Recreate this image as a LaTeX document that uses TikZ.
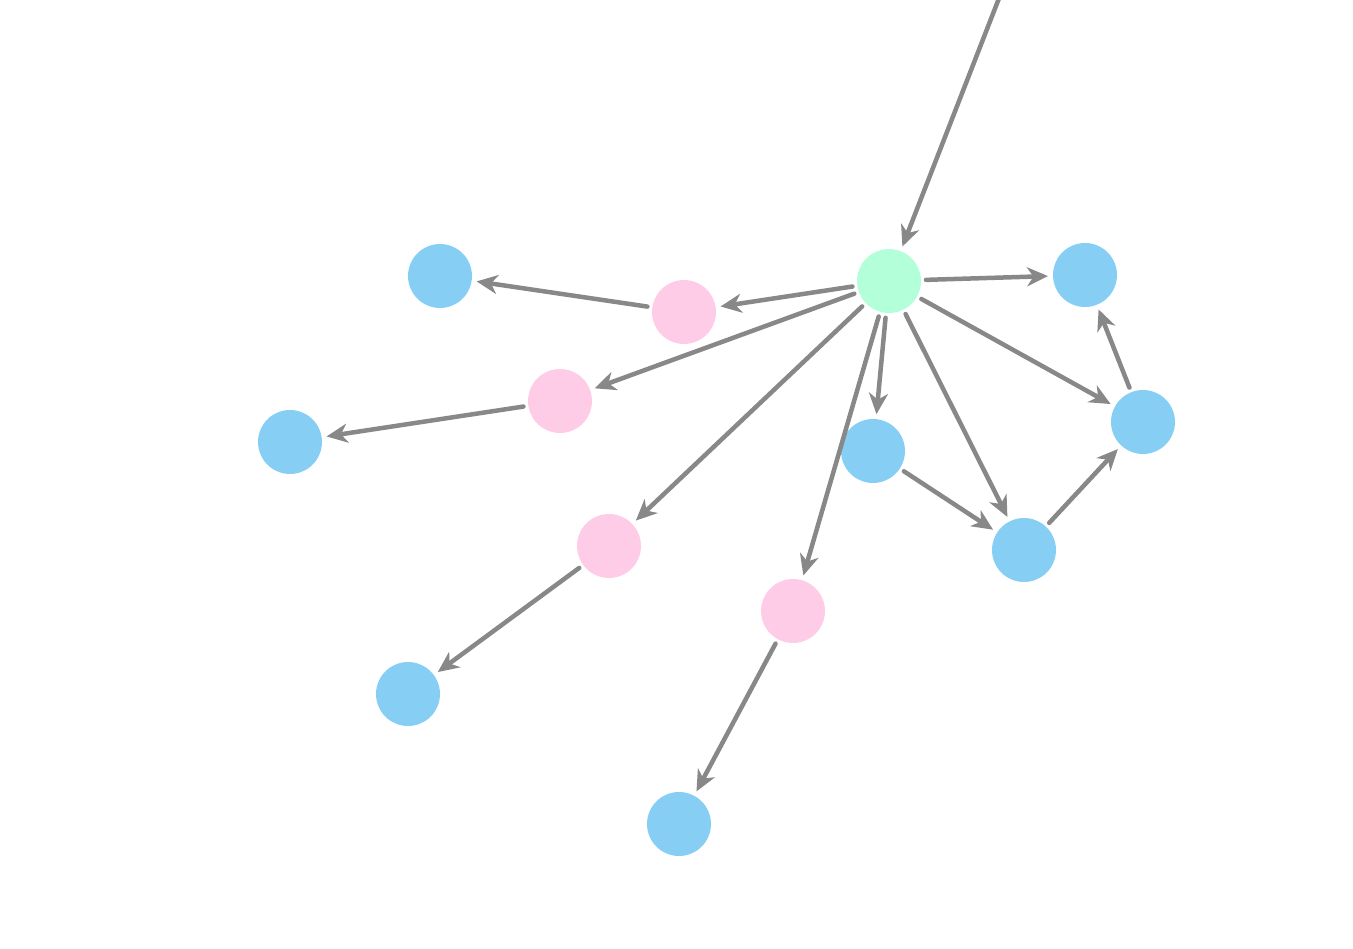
\documentclass[tikz,border=0pt]{standalone}
\usepackage{tikz}
\usetikzlibrary{arrows.meta}
\definecolor{Hub}{HTML}{B3FFDA}
\definecolor{Sky}{HTML}{87CEF5}
\definecolor{Rose}{HTML}{FFCCE8}
\definecolor{Edge}{HTML}{888888}
\begin{document}
\begin{tikzpicture}[
  x=0.02cm,y=-0.02cm,
  dot/.style={circle,minimum size=1.28cm,inner sep=0pt,outer sep=0.1cm},
  hubdot/.style={dot,fill=Hub},
  skydot/.style={dot,fill=Sky},
  rosedot/.style={dot,fill=Rose},
  arrow/.style={-{Stealth[length=0.42cm,width=0.38cm,inset=0.13cm]},line width=0.09cm,line cap=round,draw=Edge}
]
\useasboundingbox (0,0) rectangle (1353,949);
\coordinate (src) at (1003,-12);
\node[hubdot] (hub) at (889,281) {};
\node[rosedot] (p1) at (684,312) {};
\node[rosedot] (p2) at (560,401) {};
\node[rosedot] (p3) at (609,546) {};
\node[rosedot] (p4) at (793,611) {};
\node[skydot] (b1) at (440,276) {};
\node[skydot] (b2) at (290,442) {};
\node[skydot] (b3) at (408,694) {};
\node[skydot] (b4) at (679,824) {};
\node[skydot] (b5) at (873,451) {};
\node[skydot] (b6) at (1024,550) {};
\node[skydot] (b7) at (1143,422) {};
\node[skydot] (b8) at (1085,275) {};
\draw[arrow] (src) -- (hub);
\draw[arrow] (hub) -- (p1);
\draw[arrow] (hub) -- (p2);
\draw[arrow] (hub) -- (p3);
\draw[arrow] (hub) -- (p4);
\draw[arrow] (p1) -- (b1);
\draw[arrow] (p2) -- (b2);
\draw[arrow] (p3) -- (b3);
\draw[arrow] (p4) -- (b4);
\draw[arrow] (hub) -- (b5);
\draw[arrow] (hub) -- (b6);
\draw[arrow] (hub) -- (b7);
\draw[arrow] (hub) -- (b8);
\draw[arrow] (b5) -- (b6);
\draw[arrow] (b6) -- (b7);
\draw[arrow] (b7) -- (b8);
\end{tikzpicture}
\end{document}
